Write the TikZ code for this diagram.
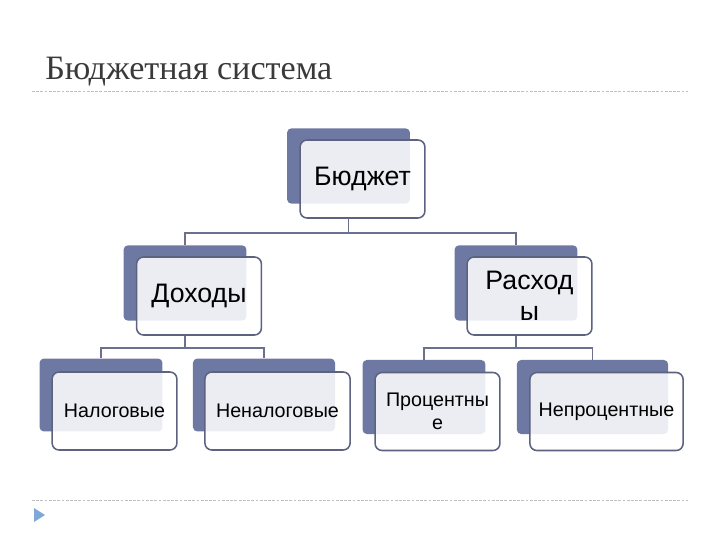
\documentclass[tikz,border=0pt]{standalone}
\usepackage{fontspec}
\setmainfont{Liberation Serif}
\newfontfamily\arial{Liberation Sans}
\usepackage{xcolor}
\usepackage{tikz}
\usetikzlibrary{positioning}
\definecolor{fundoazul}{RGB}{110,121,163}
\definecolor{borda}{RGB}{92,98,128}
\definecolor{linha}{RGB}{106,112,142}
\definecolor{titulo}{RGB}{58,58,58}
\definecolor{marcador}{RGB}{125,168,215}
\tikzset{
  fundo/.style={fill=fundoazul, rounded corners=3pt, minimum width=#1, minimum height=1.88cm, inner sep=0pt},
  fundo/.default=3.07cm,
  frente/.style={draw=borda, line width=1.1pt, fill=white, fill opacity=0.87, text opacity=1, rounded corners=5pt, minimum width=#1, minimum height=1.95cm, align=center, inner sep=2pt, font=\arial\fontsize{19}{22}\selectfont},
  frente/.default=3.12cm,
  folha/.style={frente=#1, font=\arial\fontsize{14}{16}\selectfont},
  folha/.default=3.12cm,
  ligacao/.style={draw=linha, line width=1.1pt},
  tracejado/.style={draw=gray!50, dash pattern=on 2pt off 1pt, line width=0.5pt},
}
\begin{document}
\begin{tikzpicture}[x=0.025cm, y=-0.025cm]
  \useasboundingbox (0,0) rectangle (720,540);
  \node[anchor=base west, text=titulo, font=\fontsize{24.3}{28}\selectfont, inner sep=0pt] (titulo) at (45,79) {Бюджетная система};
  \draw[tracejado] (32,91) -- (688,91);
  \draw[tracejado] (32,500) -- (688,500);
  \fill[marcador] (34,508) -- (45,515) -- (34,522) -- cycle;
  % nivel 1
  \node[fundo] (bb) at (348.5,166) {};
  \node[frente] (bf) at (362.5,179) {Бюджет};
  % nivel 2
  \node[fundo] (db) at (185,283) {};
  \node[frente] (df) at (199,296) {Доходы};
  \node[fundo] (rb) at (516,283) {};
  \node[frente] (rf) at (529.5,296) {Расход\\ы};
  % nivel 3
  \node[fundo, minimum height=1.82cm] (nb) at (101,395) {};
  \node[folha] (nf) at (114.5,411) {Налоговые};
  \node[fundo=3.55cm, minimum height=1.82cm] (hb) at (264,395) {};
  \node[folha=3.63cm] (hf) at (277.5,411) {Неналоговые};
  \node[fundo, minimum height=1.85cm] (pb) at (424,397) {};
  \node[folha] (pf) at (437.5,411.5) {Процентны\\е};
  \node[fundo=3.78cm, minimum height=1.85cm] (qb) at (592.5,397) {};
  \node[folha=3.83cm] (qf) at (606.5,411.5) {Непроцентные};
  % ligacoes
  \draw[ligacao] (bb.center |- bf.south) -- ++(0,14) -| (db.north);
  \draw[ligacao] (bb.center |- bf.south) -- ++(0,14) -| (rb.north);
  \draw[ligacao] (db.center |- df.south) -- ++(0,12) -| (nb.north);
  \draw[ligacao] (db.center |- df.south) -- ++(0,12) -| (hb.north);
  \draw[ligacao] (rb.center |- rf.south) -- ++(0,12) -| (pb.north);
  \draw[ligacao] (rb.center |- rf.south) -- ++(0,12) -| (qb.north);
\end{tikzpicture}
\end{document}
